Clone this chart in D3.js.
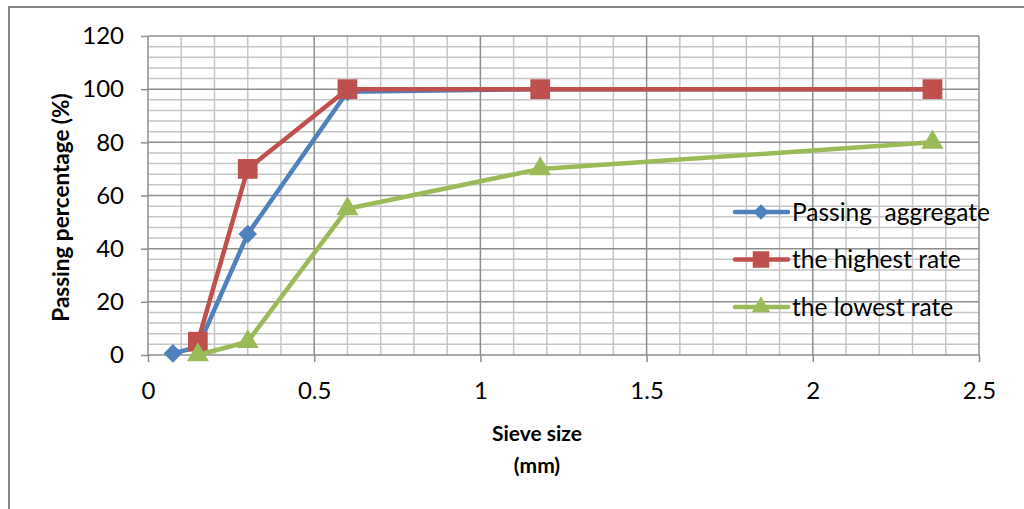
<!DOCTYPE html>
<html>
<head>
<meta charset="utf-8">
<script src="https://cdn.jsdelivr.net/npm/d3@7"></script>
<style>
  html, body { margin: 0; padding: 0; background: #fff; }
  svg { display: block; font-family: Lato, "Open Sans", sans-serif; }
  text { white-space: pre; }
</style>
</head>
<body>
<div id="chart"></div>
<script>
// sieve sizes (mm) and passing percentages
const passingSizes = [0.075, 0.15, 0.3, 0.6, 1.18, 2.36];
const passingValues = [0.6, 3, 45.5, 99, 100, 100];
const limitSizes = [0.15, 0.3, 0.6, 1.18, 2.36];
const highestValues = [5, 70, 100, 100, 100];
const lowestValues = [0, 5, 55, 70, 80];
const seriesNames = ["Passing  aggregate", "the highest rate", "the lowest rate"];
const xTicks = [0, 0.5, 1, 1.5, 2, 2.5];
const yTicks = [0, 20, 40, 60, 80, 100, 120];

const W = 1024, H = 509;
const plot = {left: 148, right: 979, top: 36, bottom: 355};

const svg = d3.select("#chart").append("svg")
    .attr("width", W).attr("height", H);

// outer chart frame (runs off the right and bottom edges)
svg.append("rect")
    .attr("x", 9).attr("y", 7).attr("width", W + 20).attr("height", H + 20)
    .attr("fill", "#fff").attr("stroke", "#868686").attr("stroke-width", 2);

const x = d3.scaleLinear().domain([0, 2.5]).range([plot.left, plot.right]);
const y = d3.scaleLinear().domain([0, 120]).range([plot.bottom, plot.top]);

// minor grid
const g = svg.append("g");
g.selectAll(".vminor").data(d3.range(1, 25).map(i => i / 10).filter(v => Math.round(v * 10) % 5 !== 0))
    .join("line")
    .attr("x1", d => x(d)).attr("x2", d => x(d))
    .attr("y1", plot.top).attr("y2", plot.bottom)
    .attr("stroke", "#c6c6c6").attr("stroke-width", 1.5);
g.selectAll(".hminor").data(d3.range(4, 120, 4).filter(v => v % 20 !== 0))
    .join("line")
    .attr("x1", plot.left).attr("x2", plot.right)
    .attr("y1", d => y(d)).attr("y2", d => y(d))
    .attr("stroke", "#c6c6c6").attr("stroke-width", 1.5);

// major grid
g.selectAll(".vmajor").data(xTicks.slice(1))
    .join("line")
    .attr("x1", d => x(d)).attr("x2", d => x(d))
    .attr("y1", plot.top).attr("y2", plot.bottom)
    .attr("stroke", "#8e8e8e").attr("stroke-width", 1.5);
g.selectAll(".hmajor").data(yTicks.slice(1))
    .join("line")
    .attr("x1", plot.left).attr("x2", plot.right)
    .attr("y1", d => y(d)).attr("y2", d => y(d))
    .attr("stroke", "#8e8e8e").attr("stroke-width", 1.5);

// axes
const xAxis = svg.append("g").attr("transform", `translate(0,${plot.bottom})`)
    .call(d3.axisBottom(x).tickValues(xTicks).tickSize(7).tickPadding(20).tickFormat(d3.format("")));
const yAxis = svg.append("g").attr("transform", `translate(${plot.left},0)`)
    .call(d3.axisLeft(y).tickValues(yTicks).tickSize(7).tickPadding(17));
[xAxis, yAxis].forEach(a => {
  a.attr("font-size", null).attr("font-family", null);
  a.select(".domain").attr("stroke", "#8e8e8e").attr("stroke-width", 1.5);
  a.selectAll(".tick line").attr("stroke", "#8e8e8e").attr("stroke-width", 1.5);
  a.selectAll("text").attr("fill", "#000")
      .style("font-size", "24px")
      .style("font-family", "Lato, 'Open Sans', sans-serif");
});
xAxis.select(".domain").attr("d", `M${plot.left},0H${plot.right}`);
yAxis.select(".domain").attr("d", `M0,${plot.top}V${plot.bottom}`);

// axis titles
svg.append("text")
    .attr("transform", `translate(69,${(plot.top + plot.bottom) / 2 + 12}) rotate(-90)`)
    .attr("text-anchor", "middle").attr("font-size", 22.5).attr("font-weight", "bold")
    .text("Passing percentage (%)");
svg.append("text").attr("x", 537).attr("y", 441)
    .attr("text-anchor", "middle").attr("font-size", 21).attr("font-weight", "bold")
    .text("Sieve size");
svg.append("text").attr("x", 537).attr("y", 473)
    .attr("text-anchor", "middle").attr("font-size", 21).attr("font-weight", "bold")
    .text("(mm)");

// diamond = square turned 45 degrees
const series = [
  {name: seriesNames[0], xs: passingSizes, ys: passingValues, color: "#4f81bd", shape: d3.symbolSquare, size: 175, rot: 45},
  {name: seriesNames[1], xs: limitSizes, ys: highestValues, color: "#c0504d", shape: d3.symbolSquare, size: 390, rot: 0},
  {name: seriesNames[2], xs: limitSizes, ys: lowestValues, color: "#9bbb59", shape: d3.symbolTriangle, size: 210, rot: 0}
];

const line = d3.line().x(d => x(d[0])).y(d => y(d[1]));
series.forEach(s => {
  const pts = s.xs.map((v, i) => [v, s.ys[i]]);
  svg.append("path").datum(pts)
      .attr("d", line).attr("fill", "none")
      .attr("stroke", s.color).attr("stroke-width", 4.5).attr("stroke-linejoin", "round");
  svg.append("g").selectAll("path").data(pts).join("path")
      .attr("transform", d => `translate(${x(d[0])},${y(d[1])}) rotate(${s.rot})`)
      .attr("d", d3.symbol().type(s.shape).size(s.size))
      .attr("fill", s.color);
});

// legend
const legend = svg.append("g");
series.forEach((s, i) => {
  const ly = 212 + i * 47.5;
  legend.append("line").attr("x1", 735).attr("x2", 788).attr("y1", ly).attr("y2", ly)
      .attr("stroke", s.color).attr("stroke-width", 4.5).attr("stroke-linecap", "round");
  legend.append("path").attr("transform", `translate(761,${ly}) rotate(${s.rot})`)
      .attr("d", d3.symbol().type(s.shape).size(s.size * 0.7)).attr("fill", s.color);
  legend.append("text").attr("x", 792).attr("y", ly).attr("dy", "0.36em")
      .attr("font-size", 24.5).attr("xml:space", "preserve").text(s.name);
});
</script>
</body>
</html>
